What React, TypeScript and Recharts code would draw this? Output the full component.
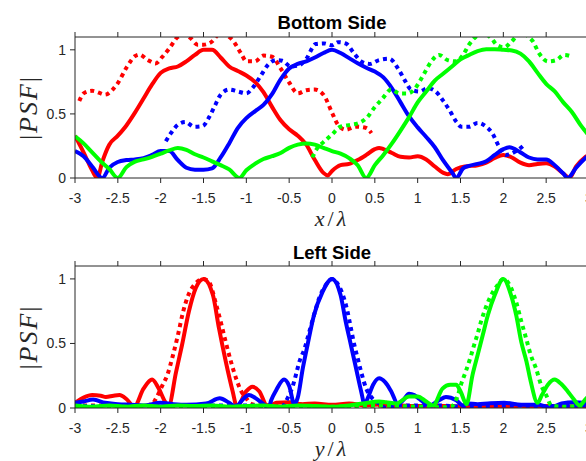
import React from 'react';
import { LineChart, Line, XAxis, YAxis, Label } from 'recharts';

type Pt = [number, number];

const xTicks = [-3, -2.5, -2, -1.5, -1, -0.5, 0, 0.5, 1, 1.5, 2, 2.5, 3];
const yTicks = [0, 0.5, 1];

// "Bottom Side" panel, [x/lambda, |PSF|]
const bottomRedSolid: Pt[] = [
  [-3, 0.33], [-2.9, 0.2], [-2.8, 0.06], [-2.74, 0], [-2.68, 0.13], [-2.6, 0.26], [-2.5, 0.33], [-2.4, 0.41],
  [-2.3, 0.51], [-2.2, 0.62], [-2.1, 0.73], [-2, 0.82], [-1.9, 0.855], [-1.8, 0.87], [-1.7, 0.91], [-1.6, 0.96],
  [-1.5, 1.0], [-1.4, 1.0], [-1.3, 0.94], [-1.2, 0.87], [-1.1, 0.835], [-1, 0.8], [-0.9, 0.75], [-0.8, 0.67],
  [-0.7, 0.555], [-0.6, 0.45], [-0.5, 0.38], [-0.4, 0.33], [-0.3, 0.26], [-0.2, 0.14], [-0.1, 0.04], [-0.05, 0.02],
  [0, 0.055], [0.1, 0.1], [0.2, 0.11], [0.3, 0.14], [0.4, 0.18], [0.5, 0.225], [0.55, 0.235], [0.6, 0.225],
  [0.7, 0.195], [0.8, 0.165], [0.9, 0.16], [1, 0.17], [1.1, 0.145], [1.2, 0.09], [1.3, 0.04], [1.35, 0.03],
  [1.45, 0.07], [1.55, 0.09], [1.6, 0.093], [1.7, 0.1], [1.8, 0.12], [1.9, 0.157], [2, 0.18], [2.1, 0.16],
  [2.2, 0.12], [2.3, 0.1], [2.4, 0.11], [2.5, 0.115], [2.6, 0.09], [2.7, 0.035], [2.77, 0], [2.85, 0.09],
  [2.95, 0.16], [3, 0.18],
];
const bottomRedDotted: Pt[] = [
  [-2.95, 0.6], [-2.9, 0.66], [-2.8, 0.68], [-2.7, 0.66], [-2.65, 0.65], [-2.56, 0.69], [-2.5, 0.74], [-2.4, 0.86],
  [-2.3, 0.95], [-2.25, 0.963], [-2.15, 0.92], [-2.06, 0.894], [-1.98, 0.946], [-1.9, 1.01], [-1.8, 1.1],
  [-1.72, 1.12], [-1.65, 1.09], [-1.57, 1.04], [-1.5, 1.04], [-1.41, 1.06], [-1.3, 1.13], [-1.2, 1.1],
  [-1.16, 1.075], [-1.06, 0.97], [-1, 0.91], [-0.9, 0.91], [-0.8, 0.955], [-0.7, 0.946], [-0.6, 0.855],
  [-0.5, 0.745], [-0.4, 0.66], [-0.3, 0.685], [-0.2, 0.69], [-0.1, 0.65], [0, 0.51], [0.07, 0.415],
  [0.16, 0.377], [0.28, 0.4], [0.4, 0.39], [0.46, 0.35],
];
const bottomBlueSolid: Pt[] = [
  [-3, 0.21], [-2.9, 0.17], [-2.8, 0.09], [-2.68, 0], [-2.6, 0.08], [-2.5, 0.125], [-2.4, 0.14], [-2.3, 0.145],
  [-2.2, 0.155], [-2.1, 0.18], [-2, 0.21], [-1.9, 0.21], [-1.8, 0.14], [-1.7, 0.08], [-1.6, 0.065], [-1.5, 0.065],
  [-1.4, 0.075], [-1.3, 0.16], [-1.2, 0.27], [-1.1, 0.39], [-1, 0.467], [-0.9, 0.52], [-0.8, 0.57], [-0.7, 0.655],
  [-0.6, 0.77], [-0.5, 0.855], [-0.4, 0.89], [-0.3, 0.91], [-0.2, 0.94], [-0.1, 0.975], [0, 1.0], [0.1, 0.975],
  [0.2, 0.935], [0.3, 0.895], [0.4, 0.86], [0.5, 0.83], [0.6, 0.785], [0.7, 0.7], [0.8, 0.59], [0.9, 0.48],
  [1, 0.395], [1.1, 0.32], [1.2, 0.24], [1.3, 0.135], [1.4, 0.045], [1.45, 0], [1.53, 0.075], [1.6, 0.095],
  [1.7, 0.11], [1.8, 0.13], [1.9, 0.18], [2, 0.225], [2.07, 0.24], [2.2, 0.2], [2.3, 0.16], [2.4, 0.145],
  [2.5, 0.145], [2.6, 0.1], [2.7, 0.035], [2.75, 0], [2.85, 0.08], [2.95, 0.15], [3, 0.18],
];
const bottomBlueDotted: Pt[] = [
  [-1.94, 0.287], [-1.88, 0.35], [-1.8, 0.415], [-1.71, 0.437], [-1.61, 0.4], [-1.51, 0.405], [-1.43, 0.48],
  [-1.37, 0.56], [-1.3, 0.65], [-1.2, 0.69], [-1.1, 0.675], [-1, 0.66], [-0.93, 0.7], [-0.83, 0.8], [-0.75, 0.88],
  [-0.65, 0.92], [-0.58, 0.915], [-0.48, 0.87], [-0.38, 0.88], [-0.3, 0.93], [-0.19, 1.045], [-0.09, 1.05],
  [0, 1.035], [0.07, 1.06], [0.16, 1.05], [0.26, 0.97], [0.34, 0.91], [0.44, 0.89], [0.55, 0.92], [0.67, 0.93],
  [0.77, 0.855], [0.86, 0.75], [0.92, 0.69], [1.02, 0.675], [1.12, 0.7], [1.21, 0.675], [1.29, 0.61],
  [1.37, 0.53], [1.45, 0.44], [1.51, 0.4], [1.6, 0.4], [1.7, 0.43], [1.8, 0.4], [1.88, 0.34], [1.93, 0.27],
  [2.03, 0.18], [2.15, 0.21], [2.23, 0.25],
];
const bottomGreenSolid: Pt[] = [
  [-3, 0.325], [-2.9, 0.27], [-2.8, 0.2], [-2.7, 0.13], [-2.6, 0.07], [-2.5, 0], [-2.4, 0.085], [-2.3, 0.128],
  [-2.2, 0.145], [-2.1, 0.165], [-2, 0.19], [-1.9, 0.215], [-1.8, 0.235], [-1.7, 0.22], [-1.6, 0.185],
  [-1.5, 0.16], [-1.4, 0.13], [-1.3, 0.1], [-1.2, 0.067], [-1.08, 0], [-1, 0.06], [-0.9, 0.11], [-0.8, 0.148],
  [-0.7, 0.17], [-0.6, 0.195], [-0.5, 0.235], [-0.4, 0.26], [-0.3, 0.27], [-0.2, 0.26], [-0.1, 0.235], [0, 0.21],
  [0.1, 0.19], [0.2, 0.155], [0.3, 0.1], [0.4, 0], [0.5, 0.1], [0.6, 0.18], [0.7, 0.27], [0.8, 0.37],
  [0.9, 0.475], [1, 0.59], [1.1, 0.675], [1.2, 0.76], [1.3, 0.815], [1.4, 0.87], [1.5, 0.925], [1.6, 0.96],
  [1.7, 0.99], [1.8, 1.005], [1.9, 1.005], [2, 1.0], [2.1, 0.995], [2.2, 0.97], [2.3, 0.91], [2.4, 0.82],
  [2.5, 0.735], [2.6, 0.675], [2.7, 0.59], [2.8, 0.515], [2.9, 0.415], [3, 0.33],
];
const bottomGreenDotted: Pt[] = [
  [-0.23, 0.16], [-0.17, 0.235], [-0.1, 0.28], [0, 0.34], [0.1, 0.4], [0.22, 0.415], [0.32, 0.43], [0.42, 0.48],
  [0.49, 0.545], [0.59, 0.62], [0.69, 0.69], [0.79, 0.66], [0.88, 0.66], [0.96, 0.69], [1.02, 0.75], [1.08, 0.82],
  [1.16, 0.91], [1.25, 0.96], [1.35, 0.92], [1.45, 0.91], [1.53, 0.96], [1.6, 1.04], [1.66, 1.09], [1.76, 1.13],
  [1.86, 1.09], [1.93, 1.035], [2.01, 1.02], [2.09, 1.06], [2.2, 1.13], [2.34, 1.07], [2.42, 0.97], [2.52, 0.91],
  [2.62, 0.92], [2.71, 0.96], [2.81, 0.945],
];

// "Left Side" panel, [y/lambda, |PSF|]
const leftRedSolid: Pt[] = [
  [-3, 0.04], [-2.9, 0.08], [-2.8, 0.1], [-2.7, 0.095], [-2.64, 0.085], [-2.55, 0.095], [-2.48, 0.1], [-2.4, 0.07],
  [-2.31, 0.01], [-2.2, 0.15], [-2.1, 0.22], [-2.03, 0.16], [-1.95, 0.05], [-1.91, 0.01], [-1.82, 0.28],
  [-1.75, 0.49], [-1.67, 0.75], [-1.59, 0.93], [-1.5, 1.0], [-1.39, 0.875], [-1.32, 0.62], [-1.24, 0.36],
  [-1.16, 0.13], [-1.11, 0.01], [-1, 0.13], [-0.93, 0.165], [-0.85, 0.13], [-0.75, 0.01], [-0.65, 0.04],
  [-0.5, 0.045], [-0.35, 0.03], [-0.2, 0.035], [0, 0.025], [0.2, 0.035], [0.4, 0.02], [0.6, 0.03], [0.8, 0.02],
  [1, 0.015], [1.2, 0.02], [1.4, 0.01], [1.6, 0.02], [1.8, 0.015], [2, 0.01], [2.2, 0.02], [2.4, 0.01],
  [2.6, 0.015], [2.8, 0.01], [3, 0.01],
];
const leftRedDotted: Pt[] = [
  [-3, 0.02], [-2.6, 0.02], [-2.3, 0.01], [-2.1, 0.03], [-2.05, 0.08], [-1.98, 0.175], [-1.92, 0.26], [-1.86, 0.4],
  [-1.8, 0.56], [-1.74, 0.74], [-1.68, 0.87], [-1.6, 0.96], [-1.5, 1.0], [-1.43, 0.97], [-1.36, 0.82],
  [-1.3, 0.67], [-1.24, 0.51], [-1.18, 0.36], [-1.12, 0.23], [-1.06, 0.13], [-1, 0.075], [-0.95, 0.035],
  [-0.85, 0.02], [-0.5, 0.03], [0, 0.02], [0.5, 0.02], [1, 0.01], [1.5, 0.015], [2, 0.01], [2.5, 0.015], [3, 0.01],
];
const leftBlueSolid: Pt[] = [
  [-3, 0.04], [-2.9, 0.05], [-2.79, 0.065], [-2.65, 0.04], [-2.5, 0.03], [-2.35, 0.025], [-2.2, 0.02], [-2, 0.04],
  [-1.85, 0.03], [-1.7, 0.025], [-1.47, 0.035], [-1.31, 0.075], [-1.2, 0.04], [-1.12, 0.01], [-1.05, 0.06],
  [-0.97, 0.1], [-0.9, 0.08], [-0.8, 0.03], [-0.74, 0], [-0.71, 0.06], [-0.65, 0.14], [-0.56, 0.22], [-0.5, 0.17],
  [-0.44, 0.03], [-0.4, 0.08], [-0.34, 0.31], [-0.285, 0.49], [-0.21, 0.72], [-0.11, 0.9], [0, 1.0], [0.1, 0.875],
  [0.16, 0.67], [0.22, 0.49], [0.28, 0.31], [0.34, 0.13], [0.38, 0.03], [0.42, 0.08], [0.48, 0.18], [0.55, 0.23],
  [0.62, 0.2], [0.69, 0.13], [0.77, 0.03], [0.83, 0.06], [0.9, 0.11], [0.96, 0.1], [1.02, 0.07], [1.14, 0.02],
  [1.25, 0.06], [1.33, 0.085], [1.45, 0.06], [1.53, 0.02], [1.58, 0.035], [1.7, 0.03], [1.82, 0.035], [2.01, 0.04],
  [2.21, 0.025], [2.4, 0.025], [2.56, 0.005], [2.68, 0.035], [2.83, 0.045], [3, 0.035],
];
const leftBlueDotted: Pt[] = [
  [-3, 0.02], [-2.5, 0.01], [-2, 0.02], [-1.5, 0.02], [-1, 0.02], [-0.7, 0.01], [-0.6, 0], [-0.52, 0.075],
  [-0.46, 0.165], [-0.42, 0.26], [-0.38, 0.36], [-0.32, 0.46], [-0.265, 0.59], [-0.21, 0.72], [-0.15, 0.85],
  [-0.07, 0.955], [0, 1.0], [0.085, 0.94], [0.14, 0.85], [0.18, 0.75], [0.22, 0.62], [0.26, 0.49], [0.3, 0.385],
  [0.34, 0.28], [0.4, 0.15], [0.47, 0.075], [0.55, 0.035], [0.63, 0], [0.8, 0.02], [1.2, 0.02], [1.6, 0.01],
  [2, 0.02], [2.5, 0.015], [3, 0.02],
];
const leftGreenSolid: Pt[] = [
  [-3, 0.02], [-2.8, 0.01], [-2.6, 0.02], [-2.4, 0.01], [-2.2, 0.02], [-2, 0.01], [-1.8, 0.02], [-1.6, 0.015],
  [-1.4, 0.02], [-1.2, 0.01], [-1, 0.015], [-0.8, 0.02], [-0.6, 0.01], [-0.4, 0.02], [-0.2, 0.015], [0, 0.01],
  [0.2, 0.02], [0.36, 0.035], [0.55, 0.05], [0.63, 0.045], [0.75, 0.035], [0.9, 0.09], [1, 0.09], [1.1, 0.05],
  [1.18, 0.02], [1.29, 0.15], [1.38, 0.18], [1.45, 0.18], [1.5, 0.13], [1.57, 0.03], [1.64, 0.255], [1.7, 0.41],
  [1.76, 0.565], [1.82, 0.72], [1.9, 0.875], [2, 1.0], [2.09, 0.875], [2.15, 0.72], [2.21, 0.51], [2.27, 0.36],
  [2.32, 0.205], [2.4, 0.04], [2.45, 0.1], [2.52, 0.18], [2.6, 0.22], [2.67, 0.19], [2.75, 0.13], [2.82, 0.07],
  [2.89, 0.02], [2.97, 0.075], [3, 0.09],
];
const leftGreenDotted: Pt[] = [
  [-3, 0.01], [-2, 0.01], [-1, 0.01], [0, 0.01], [0.5, 0.02], [1, 0.01], [1.3, 0.005], [1.39, 0.01], [1.47, 0.1],
  [1.51, 0.19], [1.56, 0.28], [1.62, 0.4], [1.66, 0.49], [1.7, 0.575], [1.74, 0.67], [1.78, 0.75], [1.84, 0.85],
  [1.92, 0.94], [2, 1.0], [2.09, 0.93], [2.15, 0.82], [2.21, 0.67], [2.27, 0.53], [2.32, 0.41], [2.38, 0.31],
  [2.44, 0.18], [2.5, 0.1], [2.56, 0.02], [2.7, 0.01], [3, 0.02],
];

const RED = '#ff0000';
const BLUE = '#0000ff';
const GREEN = '#00ff00';
const AXIS = '#262626';
const SANS = '"Liberation Sans", Arial, Helvetica, sans-serif';
const SERIF = '"Liberation Serif", "Times New Roman", serif';

interface Series {
  name: string;
  data: Pt[];
  color: string;
  dotted?: boolean;
}

const bottomSeries: Series[] = [
  { name: 'red', data: bottomRedSolid, color: RED },
  { name: 'redDot', data: bottomRedDotted, color: RED, dotted: true },
  { name: 'blue', data: bottomBlueSolid, color: BLUE },
  { name: 'blueDot', data: bottomBlueDotted, color: BLUE, dotted: true },
  { name: 'green', data: bottomGreenSolid, color: GREEN },
  { name: 'greenDot', data: bottomGreenDotted, color: GREEN, dotted: true },
];

const leftSeries: Series[] = [
  { name: 'red', data: leftRedSolid, color: RED },
  { name: 'redDot', data: leftRedDotted, color: RED, dotted: true },
  { name: 'blue', data: leftBlueSolid, color: BLUE },
  { name: 'blueDot', data: leftBlueDotted, color: BLUE, dotted: true },
  { name: 'green', data: leftGreenSolid, color: GREEN },
  { name: 'greenDot', data: leftGreenDotted, color: GREEN, dotted: true },
];

const toRows = (pts: Pt[]) => pts.map(([x, y]) => ({ x, y }));

const centerX = (props: any) => {
  const vb = props?.viewBox ?? {};
  return (vb.x ?? 75) + (vb.width ?? 514) / 2;
};

const titleText = (text: string) => (props: any) => (
  <text x={centerX(props)} y={29} textAnchor="middle"
    style={{ fontFamily: SANS, fontWeight: 700, fontSize: 18.5, fill: '#000' }}>
    {text}
  </text>
);

const xLabelText = (v: string) => (props: any) => (
  <text x={centerX(props)} y={226} textAnchor="middle"
    style={{ fontFamily: SERIF, fontSize: 22, fill: '#262626', letterSpacing: 3 }}>
    <tspan fontStyle="italic">{v}</tspan>/<tspan fontStyle="italic">λ</tspan>
  </text>
);

const yLabelText = (props: any) => {
  const vb = props?.viewBox ?? {};
  const cy = (vb.y ?? 37) + (vb.height ?? 141) / 2;
  return (
    <text x={28} y={cy} transform={`rotate(-90, 28, ${cy})`} textAnchor="middle" dominantBaseline="central"
      style={{ fontFamily: SERIF, fontSize: 26, fill: '#262626', letterSpacing: 2 }}>
      |<tspan fontStyle="italic">PSF</tspan>|
    </text>
  );
};

const tickStyle = { fontSize: 14, fontFamily: SANS, fill: AXIS };

interface PanelProps {
  title: string;
  xVar: string;
  series: Series[];
  top: number;
}

// svg is taller than the 230px slot so the x label is not cut; plot bottom stays at 178
const Panel: React.FC<PanelProps> = ({ title, xVar, series, top }) => (
  <LineChart width={620} height={240} margin={{ top, right: 31, bottom: 32, left: 35 }}>
    <XAxis xAxisId="top" orientation="top" dataKey="x" type="number" domain={[-3, 3]} ticks={xTicks}
      allowDataOverflow height={5} tickSize={5} tickFormatter={() => ''} stroke={AXIS} tick={tickStyle}>
      <Label content={titleText(title)} />
    </XAxis>
    <XAxis dataKey="x" type="number" domain={[-3, 3]} ticks={xTicks} allowDataOverflow height={30}
      tickSize={5} tickMargin={10} stroke={AXIS} tick={tickStyle}>
      <Label content={xLabelText(xVar)} />
    </XAxis>
    <YAxis type="number" domain={[0, 1.1]} ticks={yTicks} allowDataOverflow width={40}
      tickSize={5} tickMargin={4} stroke={AXIS} tick={tickStyle}>
      <Label content={yLabelText} />
    </YAxis>
    {series.map((s) => (
      <Line key={s.name} data={toRows(s.data)} dataKey="y" type="monotone" stroke={s.color}
        strokeWidth={4} strokeDasharray={s.dotted ? '4 4' : undefined} dot={false}
        activeDot={false} isAnimationActive={false} />
    ))}
  </LineChart>
);

export default function App() {
  return (
    <div style={{ position: 'absolute', left: 0, top: 0, width: 586, height: 461, overflow: 'hidden', background: '#fff' }}>
      <div style={{ position: 'absolute', left: 0, top: 0 }}>
        <Panel title="Bottom Side" xVar="x" series={bottomSeries} top={32} />
      </div>
      <div style={{ position: 'absolute', left: 0, top: 230 }}>
        <Panel title="Left Side" xVar="y" series={leftSeries} top={31} />
      </div>
    </div>
  );
}
